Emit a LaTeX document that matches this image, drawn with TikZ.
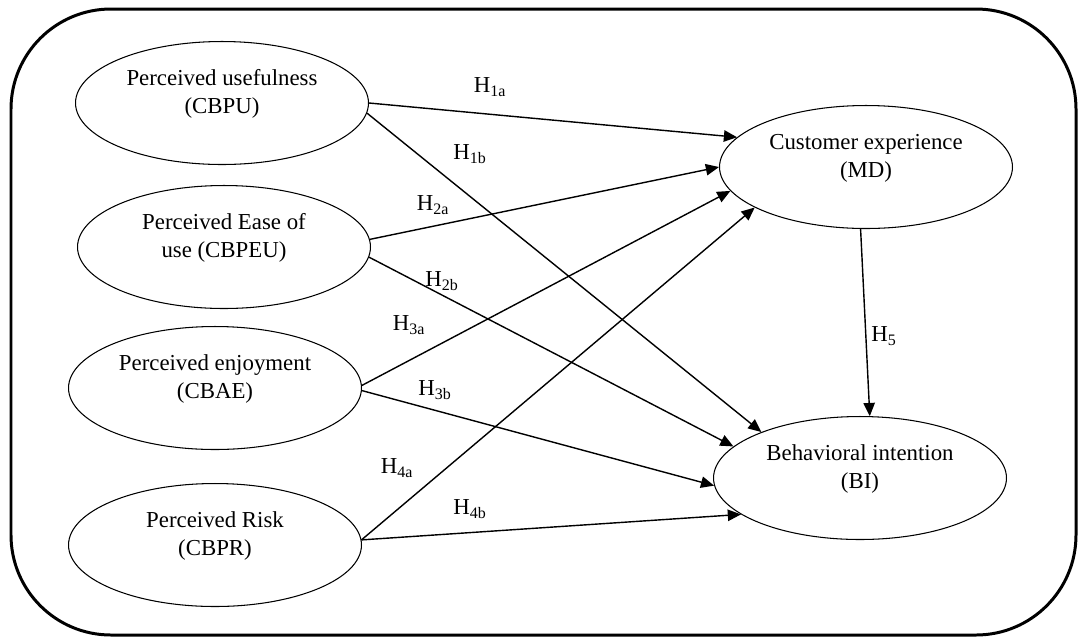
\documentclass[tikz,border=0pt]{standalone}
\usepackage{fontspec}
\setmainfont{Liberation Serif}
\usetikzlibrary{shapes.geometric, arrows.meta}
\tikzset{
  construct/.style = {
    ellipse, draw, line width=0.6pt,
    minimum width=5.86cm, minimum height=2.46cm,
    align=center, text depth=0.46cm,
    font=\fontsize{13}{16}\selectfont,
  },
  link/.style = {line width=0.8pt, -{Triangle[length=7.5pt, width=6.5pt]}},
  hyp/.style = {inner sep=1pt, font=\fontsize{13}{15}\selectfont},
  outerframe/.style = {line width=1.7pt, rounded corners=2cm},
}

\begin{document}
\begin{tikzpicture}[x=0.02cm, y=-0.02cm]
    \useasboundingbox (0,0) rectangle (1078,637);
    \draw[outerframe] (11,9) rectangle (1076,635);

    % --- Constructs ---
    \node[construct] (cbpu)  at (222,103) {Perceived usefulness\\(CBPU)};
    \node[construct] (cbpeu) at (224,247) {Perceived Ease of\\use (CBPEU)};
    \node[construct] (cbae)  at (215,388) {Perceived enjoyment\\(CBAE)};
    \node[construct] (cbpr)  at (215,545) {Perceived Risk\\(CBPR)};
    \node[construct] (md)    at (866,167) {Customer experience\\(MD)};
    \node[construct] (bi)    at (860,478) {Behavioral intention\\(BI)};

    % --- Paths ---
    \draw[link] (cbpu.east) -- (md.167);
    \draw[link] (cbpu.-4)   -- (bi.155);
    \draw[link] (cbpeu.3)   -- (md.180);
    \draw[link] (cbpeu.-4)  -- (bi.166);
    \draw[link] (cbae.1)    -- (md.190);
    \draw[link] (cbae.-1)   -- (bi.183);
    \draw[link] (cbpr.2)    -- (md.200);
    \draw[link] (cbpr.2)    -- (bi.197);
    \draw[link] (md.-95)    -- (bi.81);

    % --- Hypothesis labels ---
    \node[hyp] (h1a) at (490,87)  {H\textsubscript{1a}};
    \node[hyp] (h1b) at (470,154) {H\textsubscript{1b}};
    \node[hyp] (h2a) at (433,205) {H\textsubscript{2a}};
    \node[hyp] (h2b) at (442,281) {H\textsubscript{2b}};
    \node[hyp] (h3a) at (409,325) {H\textsubscript{3a}};
    \node[hyp] (h3b) at (435,390) {H\textsubscript{3b}};
    \node[hyp] (h4a) at (397,468) {H\textsubscript{4a}};
    \node[hyp] (h4b) at (470,509) {H\textsubscript{4b}};
    \node[hyp] (h5)  at (884,336) {H\textsubscript{5}};
\end{tikzpicture}
\end{document}
